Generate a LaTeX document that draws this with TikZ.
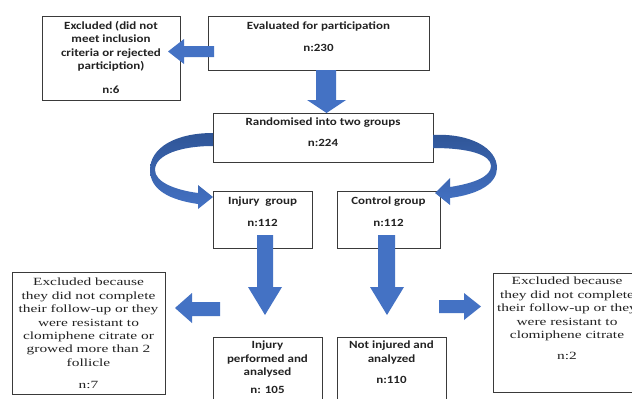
\documentclass[tikz,border=0pt]{standalone}
\usepackage{fontspec}
\newfontfamily\calb{Carlito}[FakeStretch=1.18]
\newfontfamily\tnr{Liberation Serif}[FakeStretch=1.4]
\definecolor{arrowblue}{HTML}{4472C4}
\definecolor{arrowdark}{HTML}{2F5597}
\definecolor{boxline}{HTML}{3A3A3A}
\definecolor{txt}{HTML}{222222}
\begin{document}
\begin{tikzpicture}[x=1pt,y=-1pt,
 box/.style={draw=boxline, line width=0.9pt, inner sep=0pt, outer sep=0pt, fill=white},
 sanstext/.style={anchor=north, align=center, inner sep=0pt, text=txt, font=\calb\bfseries\fontsize{11}{13.5}\selectfont},
 seriftext/.style={anchor=north, align=center, inner sep=0pt, text=txt, font=\tnr\fontsize{11}{13.4}\selectfont},
 blockarrow/.style={fill=arrowblue, draw=none},
 curvedarrow/.style={top color=arrowdark, bottom color=arrowblue, draw=none}]
\useasboundingbox (0,0) rectangle (632,399);
\clip (0,0) rectangle (632,399);
\fill[white] (0,0) rectangle (632,399);

% boxes
\node[box, minimum width=138, minimum height=84] (exc1) at (111,58) {};
\node[box, minimum width=221, minimum height=54] (eval) at (318.5,43) {};
\node[box, minimum width=220, minimum height=49] (rand) at (323,137.5) {};
\node[box, minimum width=99, minimum height=57] (inj) at (262.5,219.5) {};
\node[box, minimum width=103, minimum height=57] (ctl) at (388.5,219.5) {};
\node[box, minimum width=153, minimum height=122] (exc2) at (88.5,333) {};
\node[box, minimum width=109, minimum height=72] (injp) at (267.5,373) {};
\node[box, minimum width=109, minimum height=72] (noinj) at (391.5,373) {};
\node[box, minimum width=166, minimum height=119] (exc3) at (576,332.5) {};

% texts
\node[sanstext] (t1) at (111,21) {Excluded (did not\\meet inclusion\\criteria or rejected\\particiption)\\[10pt]n:6};
\node[sanstext] (t2) at (318.5,22) {Evaluated for participation\\[8pt]n:230};
\node[sanstext] (t3) at (323,118) {Randomised into two groups\\[7pt]n:224};
\node[sanstext] (t4) at (262.5,197) {Injury\ \ group\\[8pt]n:112};
\node[sanstext] (t5) at (388.5,197) {Control group\\[8pt]n:112};
\node[seriftext] (t6) at (88.5,278) {Excluded because\\they did not complete\\their follow-up or they\\were resistant to\\clomiphene citrate or\\growed more than 2\\follicle\\[9pt]n:7};
\node[sanstext] (t7) at (267.5,341) {Injury\\performed and\\analysed\\[4pt]n: 105};
\node[sanstext] (t8) at (391.5,341) {Not injured and\\analyzed\\[8pt]n:110};
\node[seriftext] (t9) at (567,277) {Excluded because\\they did not complete\\their follow-up or they\\were resistant to\\clomiphene citrate\\[8pt]n:2};

% straight block arrows
\fill[blockarrow] (214,46) -- (184,46) -- (184,39) -- (168,51.5) -- (184,64) -- (184,57) -- (214,57) -- cycle;
\fill[blockarrow] (316,70) -- (316,100) -- (307,100) -- (326.5,113) -- (346,100) -- (336,100) -- (336,70) -- cycle;
\fill[blockarrow] (257,235) -- (257,287) -- (248,287) -- (265,315) -- (282,287) -- (273,287) -- (273,235) -- cycle;
\fill[blockarrow] (378,235) -- (378,287) -- (370,287) -- (387,315) -- (404,287) -- (395,287) -- (395,235) -- cycle;
\fill[blockarrow] (220,302) -- (192,302) -- (192,293) -- (175,308) -- (192,323) -- (192,316) -- (220,316) -- cycle;
\fill[blockarrow] (439,300) -- (464,300) -- (464,293) -- (481,306.5) -- (464,320) -- (464,313) -- (439,313) -- cycle;

% curved arrows
\shade[curvedarrow] (213,133) .. controls (175,133) and (150,148) .. (150,170)
  .. controls (150,190) and (170,200) .. (198,204)
  -- (198,209) -- (213,197) -- (198,185) -- (198,193)
  .. controls (175,190) and (155,182) .. (155,170)
  .. controls (155,155) and (180,146) .. (213,146) -- cycle;
\shade[curvedarrow] (433,135) .. controls (470,133) and (497,148) .. (497,168)
  .. controls (497,183) and (480,194) .. (450,198)
  -- (450,205) -- (435,193) -- (450,178) -- (450,187)
  .. controls (476,183) and (491,176) .. (491,166)
  .. controls (491,155) and (470,148) .. (433,148) -- cycle;
\end{tikzpicture}
\end{document}
